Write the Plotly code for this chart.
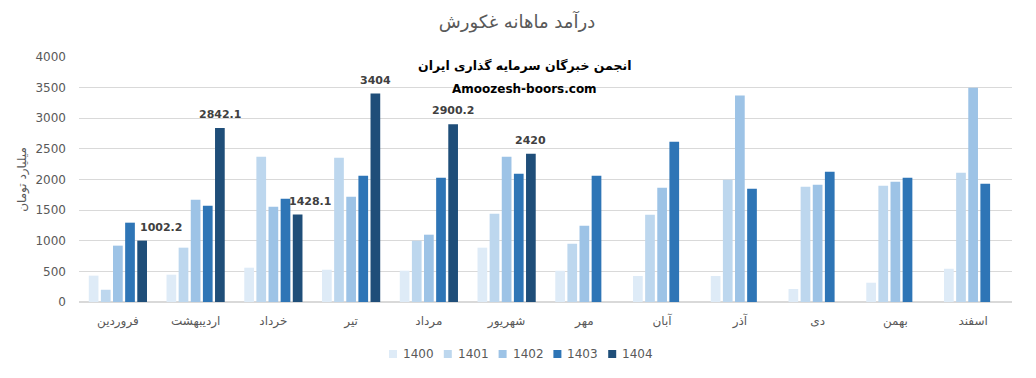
import plotly.graph_objects as go

months = ["فروردین", "اردیبهشت", "خرداد", "تیر", "مرداد", "شهریور",
          "مهر", "آبان", "آذر", "دی", "بهمن", "اسفند"]
years = ["1400", "1401", "1402", "1403", "1404"]
y1400 = [430, 446, 560, 527, 511, 887, 510, 425, 425, 212, 315, 543]
y1401 = [200, 887, 2373, 2357, 1000, 1442, 951, 1425, 1997, 1882, 1899, 2112]
y1402 = [920, 1670, 1556, 1720, 1099, 2373, 1245, 1866, 3370, 1915, 1964, 3500]
y1403 = [1295, 1573, 1687, 2063, 2030, 2095, 2063, 2617, 1850, 2128, 2030, 1931]
y1404 = [1002.2, 2842.1, 1428.1, 3404, 2900.2, 2420, None, None, None, None, None, None]
series = [y1400, y1401, y1402, y1403, y1404]
colors = ["#DEEBF7", "#BDD7EE", "#9DC3E6", "#2E75B6", "#1F4E79"]

title = "درآمد ماهانه غکورش"
sub1 = "انجمن خبرگان سرمایه گذاری ایران"
sub2 = "Amoozesh-boors.com"
ytitle = "میلیارد تومان"

W, H = 1036, 378
ml, mr, mt, mb = 79, 24, 57, 76
PW, PH = W - ml - mr, H - mt - mb
bargap = 0.22
bargroupgap = 0.2


def px_x(p):
    return (p - ml) / PW


def px_y(p):
    return (H - mb - p) / PH


fig = go.Figure()
for name, vals, c in zip(years, series, colors):
    fig.add_trace(go.Bar(x=months, y=vals, name=name, marker_color=c,
                         marker_line_width=0, showlegend=False))

# data labels for the 1404 series
catw = PW / len(months)
slot = (1 - bargap) / len(years)
off = (-(1 - bargap) / 2 + (len(years) - 0.5) * slot) * catw
extra = {0: 19, 2: 12}
for i, v in enumerate(y1404):
    if v is None:
        continue
    txt = f"{v:g}"
    fig.add_annotation(x=months[i], y=v, text=f"<b>{txt}</b>", showarrow=False,
                       xref="x", yref="y", yanchor="bottom",
                       xshift=off + extra.get(i, 0), yshift=5,
                       font=dict(family="DejaVu Sans", size=11, color="#404040"))

fig.add_annotation(x=px_x(524), y=px_y(56), xref="paper", yref="paper",
                   text=f"<b>{sub1}</b>", showarrow=False,
                   font=dict(family="DejaVu Sans", size=12.5, color="#000000"))
fig.add_annotation(x=px_x(524), y=px_y(80), xref="paper", yref="paper",
                   text=f"<b>{sub2}</b>", showarrow=False,
                   font=dict(family="DejaVu Sans", size=12, color="#000000"))

# legend (drawn as swatches + labels)
leg_x0, leg_pitch, leg_y = 389, 54.8, 354
for k, (name, c) in enumerate(zip(years, colors)):
    sx = leg_x0 + k * leg_pitch
    fig.add_shape(type="rect", xref="paper", yref="paper",
                  x0=px_x(sx), x1=px_x(sx + 8), y0=px_y(leg_y + 4), y1=px_y(leg_y - 4),
                  fillcolor=c, line_width=0, layer="above")
    fig.add_annotation(x=px_x(sx + 12), y=px_y(leg_y), xref="paper", yref="paper",
                       text=name, showarrow=False, xanchor="left", yanchor="middle",
                       font=dict(family="DejaVu Sans", size=12, color="#595959"))

fig.update_layout(
    width=W, height=H,
    margin=dict(l=ml, r=mr, t=mt, b=mb, autoexpand=False),
    paper_bgcolor="white", plot_bgcolor="white",
    barmode="group", bargap=bargap, bargroupgap=bargroupgap,
    title=dict(text=title, x=517 / W, xanchor="center", y=1 - 22 / H, yanchor="middle",
               font=dict(family="DejaVu Sans", size=18, color="#595959")),
    font=dict(family="DejaVu Sans", color="#595959"),
    showlegend=False,
)
fig.update_xaxes(type="category", showgrid=False, showline=True, linecolor="#D9D9D9",
                 linewidth=1, ticks="", ticklabelstandoff=8,
                 tickfont=dict(family="DejaVu Sans", size=12, color="#595959"))
fig.update_yaxes(range=[0, 4000], dtick=500, showgrid=True, gridcolor="#D9D9D9",
                 gridwidth=1, zeroline=True, zerolinecolor="#D9D9D9", showline=False,
                 ticks="", ticklabelstandoff=12,
                 tickfont=dict(family="DejaVu Sans", size=12, color="#595959"),
                 title=dict(text=ytitle, standoff=6,
                            font=dict(family="DejaVu Sans", size=12, color="#595959")))

fig.write_html("out.html")
